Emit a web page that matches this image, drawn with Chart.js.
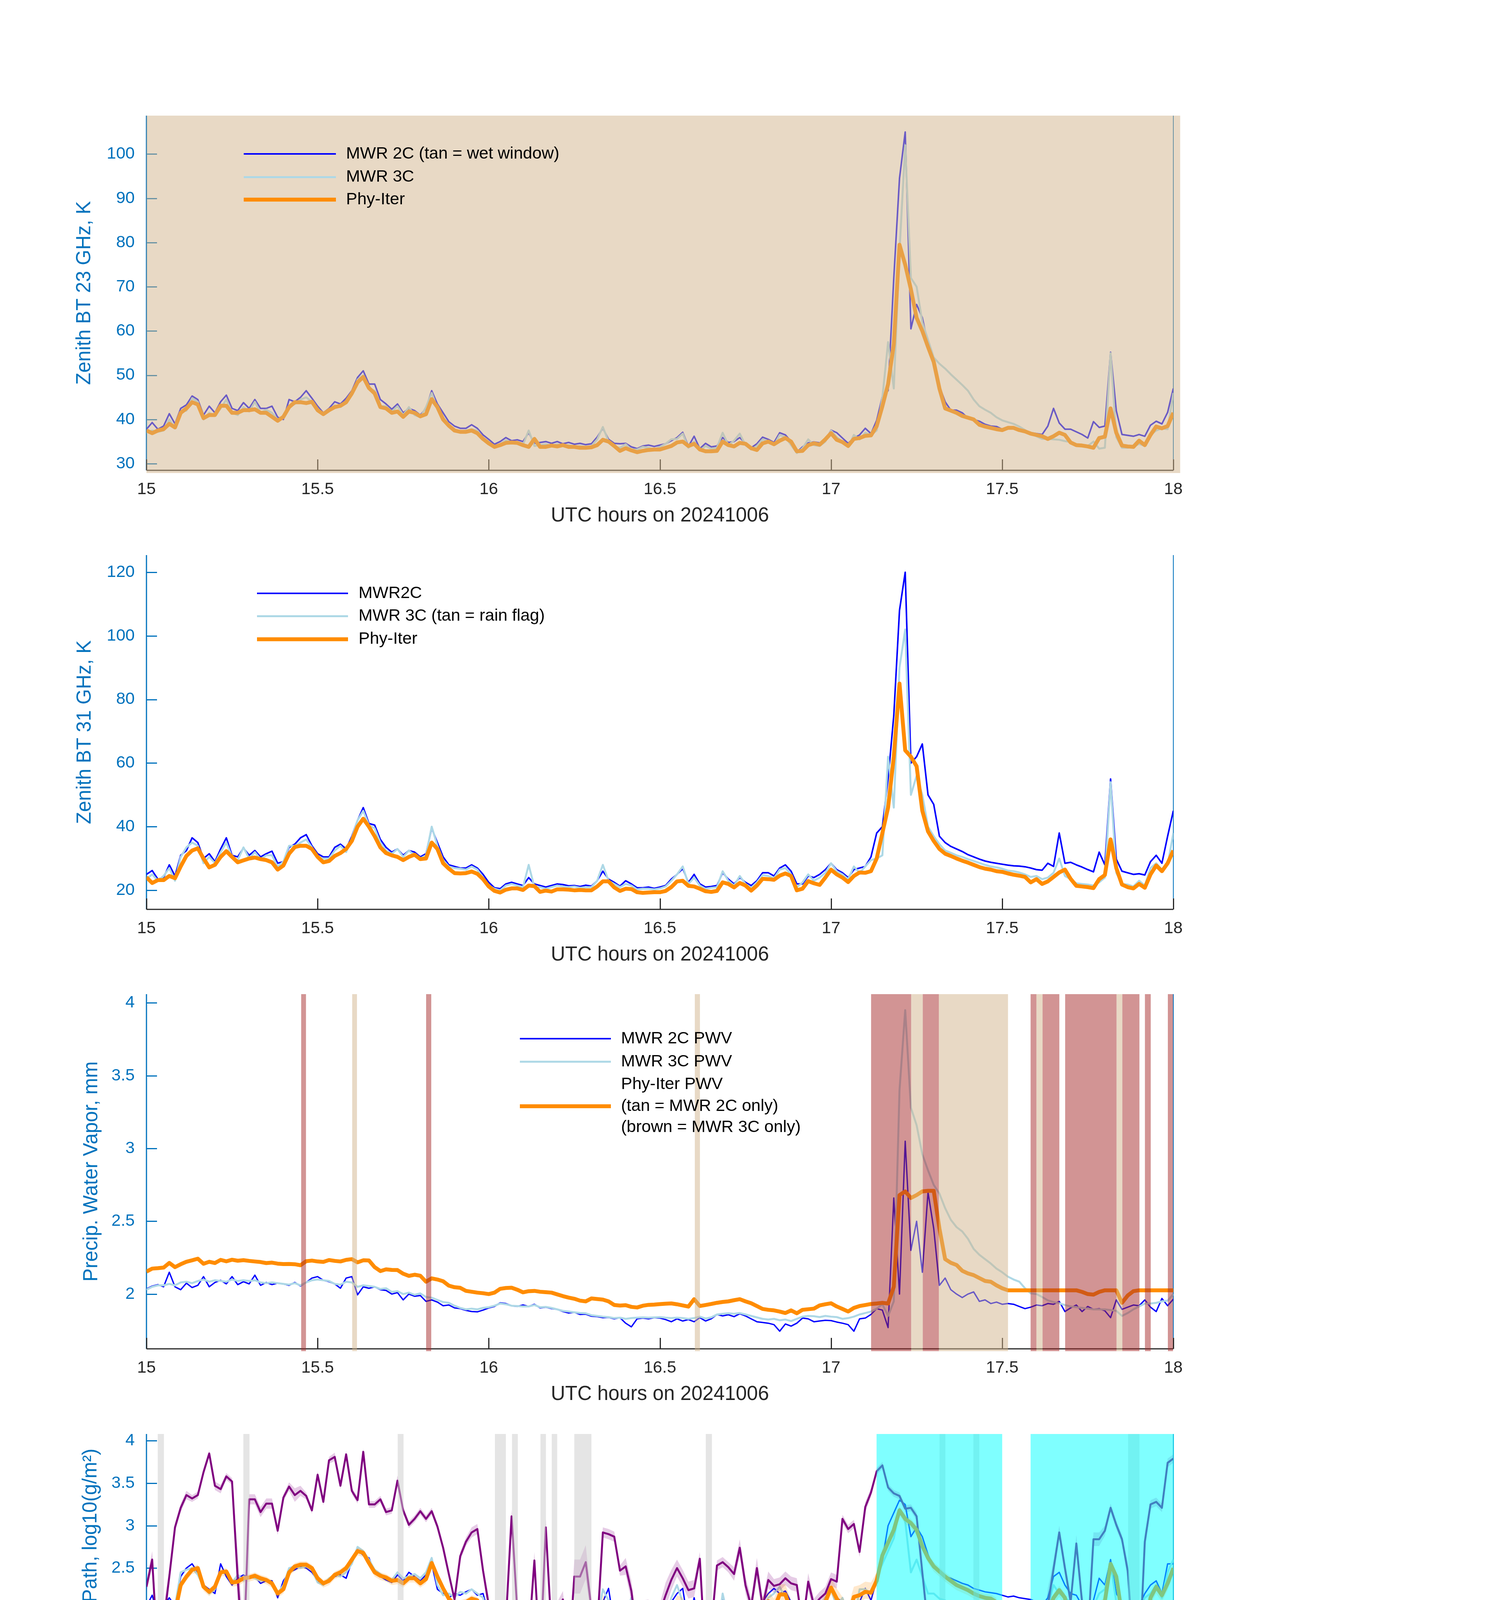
<!DOCTYPE html>
<html>
<head>
<meta charset="utf-8">
<title>MWR retrievals 20241006</title>
<script src="https://cdn.jsdelivr.net/npm/chart.js@4.4.1/dist/chart.umd.min.js"></script>
<style>
  html, body { margin: 0; padding: 0; background: #ffffff; }
  body { width: 3825px; height: 6000px; position: relative; overflow: hidden; }
  canvas { position: absolute; left: 0; }
</style>
</head>
<body>
<canvas id="bt23"></canvas>
<canvas id="bt31"></canvas>
<canvas id="pwv"></canvas>
<canvas id="lwp"></canvas>
<canvas id="dq"></canvas>
<script>
const FONT = "'Liberation Sans', Arial, Helvetica, sans-serif";
const AXIS_BLUE = '#0072BD';
const DARK = '#262626';
const C_2C = '#0000FF', C_3C = '#ADD8E6', C_PHY = '#FF8C00', C_ADIAB = '#800080';

// one sample per minute, starting 15:00 UTC
const xTicks = [15, 15.5, 16, 16.5, 17, 17.5, 18];
const xTitle = 'UTC hours on 20241006';

// ---- panel 1: 23 GHz brightness temperature (K)
const bt23Ticks = [30, 40, 50, 60, 70, 80, 90, 100];
const bt23Mwr2c = [
  37.8, 39.3, 37.8, 38.5, 41.3, 39.0, 42.5, 43.3, 45.3, 44.5,
  41.0, 43.0, 41.5, 44.0, 45.5, 42.5, 42.0, 43.8, 42.5, 44.5,
  42.5, 42.5, 43.0, 40.5, 40.0, 44.5, 44.0, 45.0, 46.5, 44.8,
  43.0, 41.5, 42.5, 44.0, 43.5, 44.8, 46.5, 49.5, 51.0, 48.0,
  48.0, 44.5, 43.5, 42.3, 43.5, 41.5, 42.5, 42.0, 41.0, 42.5,
  46.5, 43.5, 41.5, 39.5, 38.5, 38.0, 38.0, 38.8, 38.0, 36.5,
  35.5, 34.4, 35.0, 35.9, 35.2, 35.4, 35.0, 37.0, 34.6, 34.8,
  35.0, 34.6, 35.0, 34.5, 34.8, 34.4, 34.6, 34.3, 34.5, 36.0,
  38.0, 35.5, 34.6, 34.5, 34.6, 33.8, 33.4, 34.0, 34.2, 33.9,
  34.2, 34.5, 35.2, 35.9, 37.1, 33.9, 36.2, 33.4, 34.6, 33.8,
  34.0, 35.9, 34.8, 35.0, 35.9, 34.6, 33.6, 34.5, 36.0, 35.5,
  34.8, 37.0, 36.5, 35.0, 32.6, 33.8, 34.7, 34.9, 34.7, 35.2,
  37.6, 37.0, 35.8, 34.6, 35.8, 36.5, 38.0, 36.8, 39.8, 45.2,
  46.5, 72.0, 94.5, 105.0, 60.5, 66.0, 63.0, 57.0, 54.0, 47.5,
  44.0, 42.1, 42.1, 41.5, 40.3, 40.0, 39.6, 38.9, 38.5, 38.4,
  37.8, 38.1, 38.0, 37.8, 37.5, 37.0, 36.8, 36.6, 38.5, 42.5,
  39.2, 37.8, 37.8, 37.2, 36.6, 35.8, 39.5, 38.2, 38.5, 55.2,
  42.0, 36.6, 36.4, 36.2, 36.6, 36.2, 38.7, 39.6, 39.0, 41.6,
  47.0
];
const bt23Mwr3c = [
  37.0, 37.5, 37.2, 37.5, 40.0, 38.0, 41.8, 42.0, 44.8, 44.0,
  40.0, 41.5, 40.8, 42.5, 44.5, 41.5, 41.0, 42.8, 41.8, 44.0,
  41.5, 42.2, 41.5, 40.0, 40.3, 43.0, 43.5, 44.5, 45.0, 44.0,
  42.5, 41.0, 42.0, 43.2, 42.8, 44.0, 45.5, 49.0, 50.0, 47.0,
  46.5, 43.0, 43.0, 41.8, 43.0, 41.0, 42.8, 41.0, 40.5, 42.8,
  46.0, 42.5, 40.5, 38.8, 37.8, 37.3, 37.5, 37.8, 37.5, 35.8,
  35.0, 33.6, 34.4, 35.3, 34.8, 34.8, 34.3, 37.5, 34.0, 34.2,
  34.4, 34.0, 34.4, 34.0, 34.2, 33.8, 34.0, 33.8, 34.0, 35.5,
  38.3, 35.0, 33.8, 33.6, 34.4, 33.2, 33.2, 33.8, 33.6, 33.2,
  33.8, 34.5, 35.5, 35.6, 36.8, 33.6, 35.0, 33.0, 34.0, 33.4,
  33.6, 37.0, 34.2, 35.2, 36.8, 34.2, 33.2, 34.0, 35.5, 35.0,
  34.2, 36.5, 36.0, 34.2, 32.4, 33.5, 35.5, 34.2, 34.0, 35.0,
  37.5, 36.0, 35.0, 33.8, 36.5, 35.5, 37.0, 36.5, 37.5, 45.0,
  57.5, 47.0, 78.0, 102.0, 72.0, 70.0, 62.0, 58.0, 54.0, 52.6,
  51.5, 50.2, 49.0, 47.8, 46.5, 44.5, 43.0, 42.2, 41.5, 40.5,
  39.8, 39.4, 39.0, 38.4, 37.6, 36.8, 36.2, 35.6, 35.6, 35.5,
  35.4, 35.1, 34.9, 34.4, 34.2, 34.0, 35.0, 33.4, 33.6, 55.0,
  36.0, 33.6, 33.6, 33.8, 34.5, 34.0, 36.5, 37.5, 38.0, 37.8,
  46.0
];
const bt23Phy = [
  37.5, 36.9, 37.5, 37.8, 39.0, 38.2, 41.5, 42.5, 43.9, 43.4,
  40.3, 41.0, 41.0, 43.1, 43.1, 41.5, 41.5, 42.1, 42.1, 42.3,
  41.5, 41.5, 40.6, 39.7, 40.6, 42.8, 43.9, 43.9, 43.7, 44.0,
  42.1, 41.2, 42.1, 42.8, 43.1, 43.9, 45.9, 48.4, 49.6, 47.1,
  45.9, 42.8, 42.5, 41.5, 41.8, 40.6, 41.8, 41.5, 40.7, 41.2,
  44.6, 42.8, 40.0, 38.6, 37.5, 37.2, 37.2, 37.5, 36.9, 35.6,
  34.6, 33.8, 34.2, 34.7, 34.8, 34.7, 34.2, 33.8, 35.6, 33.8,
  33.8, 34.1, 33.9, 34.2, 33.8, 33.8, 33.6, 33.6, 33.7, 34.2,
  35.4, 35.0, 34.0, 32.9, 33.5, 33.0, 32.6, 32.9, 33.1, 33.2,
  33.2, 33.6, 34.0, 34.8, 35.0, 34.0, 34.5, 33.2, 32.8, 32.8,
  32.9, 35.0, 34.2, 33.9, 34.7, 34.5, 33.5, 33.1, 34.6, 35.0,
  34.4, 35.2, 35.8, 35.0, 32.8, 32.9, 34.2, 34.6, 34.3, 35.5,
  36.9, 35.4, 34.9, 34.0, 35.6, 35.8, 36.3, 36.4, 38.5, 43.0,
  48.0, 57.0, 79.5, 75.0, 69.4, 63.0, 60.0, 56.4, 53.0, 47.0,
  42.5, 42.0, 41.5, 40.8, 40.4, 40.0, 38.8, 38.4, 38.1, 37.8,
  37.6, 38.1, 38.1, 37.6, 37.3, 36.8, 36.5, 36.2, 35.6, 36.2,
  37.0, 36.5, 34.8, 34.2, 34.1, 33.9, 33.6, 35.8, 36.1, 42.5,
  37.0, 34.1, 33.9, 33.8, 35.2, 34.2, 36.5, 38.4, 38.0, 38.5,
  41.5
];
const wetWindow = [[15.0, 18.02]];

// ---- panel 2: 31 GHz brightness temperature (K)
const bt31Ticks = [20, 40, 60, 80, 100, 120];
const bt31Mwr2c = [
  25.0, 26.2, 23.5, 24.0, 28.0, 24.5, 31.0, 32.5, 36.5, 35.0,
  30.0, 31.5, 29.0, 33.0, 36.5, 31.0, 30.5, 33.3, 31.0, 32.5,
  30.5, 31.5, 32.3, 28.5, 29.0, 33.5, 34.5, 36.5, 37.5, 34.0,
  31.5, 30.5, 30.5, 33.5, 34.5, 33.0, 37.0, 42.0, 46.0, 41.0,
  40.5, 36.0, 33.5, 32.0, 33.0, 31.0, 32.5, 32.0, 30.5, 31.5,
  39.5, 35.0, 30.5, 28.0, 27.5, 27.0, 27.0, 28.0, 27.0, 25.0,
  22.5, 20.8, 20.5, 22.0, 22.5, 22.0, 21.5, 24.0, 22.0, 21.5,
  21.0, 21.5, 22.0, 21.8, 21.4, 21.5, 21.2, 21.6, 21.3, 23.0,
  26.0, 23.5, 22.5, 21.3, 23.0, 22.0, 20.8, 20.8, 21.0, 20.6,
  21.0, 21.5, 23.5, 25.0, 26.8, 22.5, 25.0, 22.0, 21.0, 21.2,
  21.5, 25.5, 23.5, 22.0, 24.0, 22.5, 21.5, 23.0, 25.5, 25.5,
  24.5, 27.0, 28.0, 26.0, 22.0, 22.0, 24.5, 24.0, 25.0, 26.5,
  28.5, 26.5, 25.5, 24.0, 26.5, 27.0, 27.5, 30.5, 38.0, 40.0,
  55.0, 75.0, 108.0, 120.0, 60.0, 62.0, 66.0, 50.0, 47.0, 37.0,
  35.0, 33.8, 33.0, 32.2, 31.2, 30.5, 29.8, 29.2, 28.8, 28.5,
  28.2, 27.9, 27.7, 27.6, 27.4, 27.0, 26.5, 26.3, 28.5, 27.5,
  38.0, 28.5, 28.8, 28.0, 27.3, 26.5, 25.8, 32.0, 28.0, 55.0,
  29.8, 26.0, 25.5, 25.0, 25.2, 24.8, 29.0, 31.0, 28.5, 37.0,
  45.0
];
const bt31Mwr3c = [
  23.5, 25.0, 23.0, 24.5, 27.0, 23.0, 30.5, 33.5, 35.0, 34.0,
  28.5, 30.5, 28.5, 32.0, 35.0, 30.5, 29.5, 33.5, 30.0, 32.0,
  29.8, 31.0, 31.0, 27.5, 29.0, 34.0, 34.0, 35.0, 36.0, 33.5,
  30.5, 30.0, 30.0, 32.5, 34.0, 32.0, 36.5, 42.0, 45.0, 40.5,
  39.5, 35.0, 32.5, 31.5, 33.0, 30.5, 32.5, 31.0, 30.0, 31.0,
  40.0, 34.0, 29.5, 27.5, 27.0, 26.8, 26.5, 27.5, 26.5, 24.0,
  21.5, 20.5, 20.0, 21.5, 22.0, 21.5, 21.0, 28.0, 21.0, 21.0,
  20.5, 21.0, 21.5, 21.2, 21.0, 21.2, 20.8, 21.0, 21.0, 23.0,
  28.0, 23.0, 22.0, 21.0, 22.0, 21.5, 20.3, 20.5, 20.5, 20.3,
  20.6, 21.2, 23.0, 25.0, 27.5, 22.0, 24.0, 21.5, 20.5, 20.8,
  21.0, 26.0, 23.0, 21.5, 24.5, 22.0, 20.8, 22.5, 24.8, 24.5,
  23.8, 26.5, 27.0, 25.0, 21.0, 22.5, 25.0, 23.0, 24.0, 25.5,
  28.5, 26.0, 25.0, 23.5, 27.5, 25.5, 27.5, 29.5, 30.0, 31.0,
  62.0, 46.0, 90.0, 102.0, 50.0, 56.0, 50.0, 40.0, 37.0, 34.5,
  32.5, 31.8, 31.0, 30.5, 29.8, 29.2, 28.6, 28.0, 27.5, 27.2,
  26.8, 26.2, 26.0, 25.6, 25.0, 24.2, 24.5, 23.5, 24.0, 25.5,
  30.0, 24.5, 23.5, 22.2, 22.0, 21.8, 21.5, 22.5, 24.0, 54.0,
  25.5, 22.0, 21.8, 21.2, 23.0, 21.5, 27.0, 28.5, 26.5, 28.0,
  38.0
];
const bt31Phy = [
  24.1, 22.3, 23.2, 23.2, 24.5, 23.8, 27.5, 30.8, 32.5, 33.2,
  30.0, 27.2, 28.0, 30.5, 32.3, 30.5, 28.8, 29.4, 30.0, 30.3,
  29.8, 29.5, 28.8, 26.5, 27.8, 31.5, 33.6, 34.0, 34.0, 33.0,
  30.5, 28.8, 29.2, 30.8, 31.7, 33.0, 35.5, 40.0, 42.5, 40.0,
  37.0, 33.5, 31.7, 31.0, 30.5, 29.5, 30.5, 31.2, 29.8, 30.0,
  35.0, 33.0, 28.5, 26.8, 25.4, 25.3, 25.4, 25.9, 25.2, 23.5,
  21.2, 19.8, 19.3, 20.2, 20.6, 20.6, 20.1, 21.5, 21.3, 19.5,
  19.9, 19.6, 20.3, 20.3, 20.2, 20.0, 20.1, 20.0, 20.0, 21.2,
  22.8, 22.8, 20.9, 19.8, 20.5, 20.4, 19.4, 19.2, 19.3, 19.4,
  19.4, 19.8, 21.0, 22.8, 23.0, 21.4, 21.2, 20.5, 19.7, 19.5,
  19.8, 22.5, 22.0, 20.9, 22.3, 21.5, 19.9, 21.5, 23.6, 23.5,
  23.3, 24.6, 25.3, 24.5, 20.0, 20.5, 22.9, 22.2, 21.7, 24.0,
  26.5, 25.0, 24.0, 22.6, 24.5, 25.6, 25.5, 26.0, 30.0, 38.0,
  46.0, 62.0, 85.0, 64.0, 62.0, 59.0, 45.0, 38.5, 35.5, 33.0,
  31.5, 30.8, 30.0, 29.3, 28.7, 28.0, 27.3, 26.8, 26.5, 26.0,
  25.8, 25.3, 24.9, 24.6, 24.2, 22.5, 23.5, 22.0, 22.8, 24.2,
  25.6, 26.5, 23.6, 21.4, 21.2, 21.0, 20.7, 23.5, 24.8, 36.0,
  27.0, 21.8, 21.0, 20.6, 22.0, 20.8, 25.0, 27.8, 26.0, 28.5,
  32.5
];

// ---- panel 3: precipitable water vapour (mm)
const pwvTicks = [2, 2.5, 3, 3.5, 4];
const pwvMwr2c = [
  2.035, 2.055, 2.065, 2.050, 2.150, 2.050, 2.030, 2.075, 2.045, 2.060,
  2.120, 2.050, 2.080, 2.095, 2.070, 2.120, 2.065, 2.085, 2.070, 2.130,
  2.060, 2.080, 2.065, 2.075, 2.070, 2.060, 2.080, 2.055, 2.080, 2.110,
  2.120, 2.095, 2.085, 2.070, 2.040, 2.110, 2.120, 1.995, 2.050, 2.040,
  2.050, 2.030, 2.025, 2.000, 2.010, 1.960, 2.000, 1.985, 1.990, 1.950,
  1.960, 1.945, 1.920, 1.925, 1.905, 1.900, 1.888, 1.880, 1.878, 1.890,
  1.905, 1.915, 1.940, 1.935, 1.920, 1.915, 1.925, 1.915, 1.930, 1.905,
  1.910, 1.900, 1.895, 1.880, 1.870, 1.875, 1.860, 1.862, 1.848, 1.845,
  1.838, 1.840, 1.830, 1.838, 1.800, 1.775, 1.830, 1.835, 1.830, 1.838,
  1.835, 1.825, 1.810, 1.830, 1.815, 1.825, 1.810, 1.838, 1.815, 1.830,
  1.860, 1.850, 1.858, 1.845, 1.865, 1.850, 1.830, 1.810, 1.805, 1.800,
  1.790, 1.745, 1.795, 1.780, 1.800, 1.835, 1.830, 1.810, 1.815, 1.820,
  1.818, 1.808, 1.800, 1.790, 1.745, 1.830, 1.835, 1.860, 1.900, 1.890,
  1.770, 2.660, 2.000, 3.050, 2.300, 2.500, 2.150, 2.700, 2.450, 2.060,
  2.110, 2.030, 2.000, 1.976, 2.000, 2.015, 1.950, 1.960, 1.935, 1.945,
  1.930, 1.935, 1.930, 1.915, 1.900, 1.910, 1.925, 1.920, 1.935, 1.930,
  1.950, 1.880, 1.905, 1.925, 1.880, 1.915, 1.895, 1.900, 1.885, 1.838,
  1.960, 1.895, 1.910, 1.925, 1.920, 1.960, 1.910, 1.880, 1.970, 1.920,
  1.965
];
const pwvMwr3c = [
  2.030, 2.050, 2.060, 2.060, 2.070, 2.060, 2.080, 2.085, 2.075, 2.090,
  2.100, 2.085, 2.095, 2.090, 2.085, 2.100, 2.090, 2.095, 2.090, 2.095,
  2.080, 2.075, 2.080, 2.075, 2.070, 2.065, 2.075, 2.060, 2.080, 2.095,
  2.100, 2.095, 2.090, 2.070, 2.065, 2.085, 2.080, 2.050, 2.060, 2.055,
  2.050, 2.035, 2.040, 2.015, 2.020, 2.000, 2.010, 1.995, 2.005, 1.980,
  1.975, 1.960, 1.945, 1.940, 1.920, 1.905, 1.895, 1.900, 1.895, 1.905,
  1.910, 1.920, 1.935, 1.930, 1.920, 1.918, 1.915, 1.915, 1.925, 1.910,
  1.912, 1.905, 1.895, 1.885, 1.880, 1.875, 1.870, 1.868, 1.855, 1.850,
  1.845, 1.842, 1.835, 1.838, 1.830, 1.835, 1.838, 1.840, 1.838, 1.840,
  1.842, 1.838, 1.835, 1.838, 1.835, 1.830, 1.835, 1.845, 1.832, 1.840,
  1.860, 1.865, 1.868, 1.865, 1.870, 1.860, 1.850, 1.840, 1.830, 1.825,
  1.830, 1.820, 1.825, 1.815, 1.830, 1.845, 1.850, 1.848, 1.842, 1.850,
  1.845, 1.842, 1.830, 1.835, 1.845, 1.860, 1.870, 1.880, 1.900, 1.930,
  1.850, 1.950, 3.400, 3.950, 3.280, 3.160, 2.960, 2.850, 2.750, 2.690,
  2.590, 2.510, 2.460, 2.430, 2.380, 2.310, 2.270, 2.240, 2.210, 2.175,
  2.150, 2.120, 2.100, 2.085, 2.040, 2.005, 2.000, 1.980, 1.957, 1.945,
  1.937, 1.925, 1.915, 1.910, 1.905, 1.900, 1.895, 1.895, 1.895, 1.890,
  1.885, 1.850, 1.870, 1.895, 1.915, 1.935, 1.935, 1.940, 1.950, 1.955,
  2.000
];
const pwvPhy = [
  2.154, 2.175, 2.178, 2.182, 2.214, 2.185, 2.205, 2.222, 2.232, 2.243,
  2.208, 2.222, 2.213, 2.235, 2.225, 2.236, 2.229, 2.233, 2.228, 2.224,
  2.220, 2.213, 2.216, 2.209, 2.206, 2.207, 2.205, 2.198, 2.226, 2.230,
  2.224, 2.221, 2.234, 2.228, 2.224, 2.235, 2.240, 2.218, 2.232, 2.231,
  2.185, 2.158, 2.170, 2.166, 2.165, 2.140, 2.125, 2.133, 2.126, 2.085,
  2.108, 2.100, 2.088, 2.058, 2.047, 2.043, 2.022, 2.016, 2.010, 2.006,
  2.000, 2.010, 2.036, 2.042, 2.044, 2.030, 2.012, 2.020, 2.022, 2.016,
  2.013, 2.010, 1.998, 1.986, 1.976, 1.968, 1.955, 1.950, 1.970, 1.966,
  1.962, 1.950, 1.925, 1.921, 1.924, 1.912, 1.908, 1.920, 1.926, 1.928,
  1.931, 1.934, 1.936, 1.930, 1.922, 1.914, 1.965, 1.918, 1.925, 1.932,
  1.940, 1.946, 1.950, 1.958, 1.965, 1.950, 1.937, 1.918, 1.898, 1.892,
  1.888, 1.880, 1.870, 1.888, 1.868, 1.892, 1.896, 1.900, 1.922, 1.930,
  1.937, 1.915, 1.898, 1.880, 1.905, 1.918, 1.925, 1.932, 1.935, 1.940,
  1.935, 2.050, 2.680, 2.705, 2.660, 2.680, 2.705, 2.709, 2.709, 2.450,
  2.240, 2.215, 2.200, 2.160, 2.142, 2.130, 2.110, 2.090, 2.085, 2.060,
  2.040, 2.026, 2.026, 2.026, 2.026, 2.026, 2.026, 2.026, 2.026, 2.026,
  2.026, 2.026, 2.026, 2.026, 2.015, 2.000, 1.996, 2.015, 2.026, 2.026,
  2.026, 1.940, 1.990, 2.020, 2.026, 2.026, 2.026, 2.026, 2.026, 2.026,
  2.026
];
const mwr2cOnly = [[15.601, 15.615], [16.602, 16.617], [17.234, 17.268], [17.315, 17.517],
                   [17.600, 17.618], [17.834, 17.851]];
const mwr3cOnly = [[15.452, 15.466], [15.817, 15.832], [17.117, 17.234], [17.268, 17.315],
                   [17.583, 17.600], [17.618, 17.667], [17.684, 17.834], [17.851, 17.901],
                   [17.917, 17.934], [17.984, 17.999]];

// ---- panel 4: log10 liquid water path
const lwpTicks = [0, 0.5, 1, 1.5, 2, 2.5, 3, 3.5, 4];
const lwpMwr2c = [
  2.05, 2.18, 1.95, 2.05, 2.15, 2.05, 2.40, 2.50, 2.55, 2.45,
  2.30, 2.25, 2.20, 2.55, 2.40, 2.30, 2.38, 2.42, 2.38, 2.40,
  2.32, 2.35, 2.35, 2.15, 2.35, 2.45, 2.48, 2.52, 2.50, 2.45,
  2.35, 2.30, 2.36, 2.40, 2.42, 2.38, 2.58, 2.72, 2.65, 2.62,
  2.45, 2.40, 2.36, 2.33, 2.42, 2.35, 2.45, 2.40, 2.35, 2.42,
  2.55, 2.25, 2.20, 2.15, 2.20, 2.18, 2.22, 2.25, 2.18, 2.20,
  1.95, 1.60, 1.68, 1.85, 1.82, 1.78, 1.65, 1.95, 1.60, 1.72,
  1.78, 1.85, 1.72, 1.78, 1.80, 1.76, 1.80, 1.78, 1.74, 1.85,
  2.10, 2.26, 1.83, 1.65, 2.05, 2.07, 1.67, 1.83, 1.78, 1.80,
  1.75, 1.88, 2.10, 2.20, 2.26, 1.83, 2.15, 1.83, 1.88, 1.75,
  1.65, 2.15, 2.02, 1.80, 2.05, 1.95, 1.80, 1.88, 2.10, 2.20,
  2.26, 2.20, 2.23, 2.10, 1.62, 1.83, 1.99, 2.02, 1.95, 2.10,
  2.26, 2.15, 2.10, 2.05, 1.95, 2.10, 2.26, 2.12, 2.36, 2.60,
  3.00, 3.15, 3.30, 3.25, 2.87, 2.98, 2.87, 2.66, 2.50, 2.46,
  2.40, 2.38, 2.35, 2.32, 2.30, 2.26, 2.24, 2.22, 2.21, 2.20,
  2.18, 2.16, 2.17, 2.15, 2.14, 2.13, 2.10, 2.06, 2.15, 2.40,
  2.45, 2.30, 2.20, 2.18, 2.06, 2.10, 2.12, 2.38, 2.30, 2.60,
  2.20, 2.10, 2.06, 2.03, 2.06, 2.20, 2.30, 2.35, 2.20, 2.55,
  2.55
];
const lwpMwr3c = [
  1.95, 2.10, 1.90, 2.00, 2.10, 2.05, 2.45, 2.48, 2.50, 2.42,
  2.28, 2.20, 2.25, 2.45, 2.45, 2.33, 2.42, 2.35, 2.40, 2.38,
  2.35, 2.36, 2.33, 2.20, 2.30, 2.50, 2.52, 2.50, 2.52, 2.48,
  2.33, 2.30, 2.38, 2.42, 2.40, 2.45, 2.55, 2.75, 2.70, 2.60,
  2.48, 2.43, 2.38, 2.36, 2.45, 2.38, 2.40, 2.43, 2.38, 2.45,
  2.62, 2.30, 2.18, 2.20, 2.16, 2.22, 2.20, 2.25, 2.20, 2.15,
  1.90, 1.55, 1.70, 1.80, 1.88, 1.72, 1.60, 2.05, 1.65, 1.80,
  1.70, 1.90, 1.75, 1.72, 1.85, 1.70, 1.82, 1.72, 1.80, 1.90,
  2.25, 2.12, 1.80, 1.75, 1.95, 2.15, 1.70, 1.88, 1.72, 1.85,
  1.80, 1.92, 2.15, 2.30, 2.10, 1.80, 2.05, 1.85, 1.80, 1.80,
  1.70, 2.20, 1.90, 1.85, 2.00, 2.05, 1.75, 1.95, 2.00, 2.15,
  2.20, 2.28, 2.15, 2.05, 1.55, 1.90, 1.95, 2.05, 2.00, 2.15,
  2.25, 2.05, 2.15, 1.95, 1.85, 2.25, 2.25, 2.20, 2.40, 2.55,
  2.70, 2.85, 3.20, 3.05, 2.45, 2.60, 2.40, 2.20, 2.20, 2.14,
  2.12, 2.06, 2.05, 2.03, 2.00, 1.97, 1.95, 1.94, 1.93, 1.90,
  1.89, 1.88, 1.90, 1.86, 1.82, 1.90, 2.00, 1.95, 2.05, 2.30,
  2.20, 2.15, 2.10, 2.05, 1.95, 2.00, 2.05, 2.20, 2.25, 2.55,
  2.10, 2.00, 1.95, 1.90, 2.00, 2.15, 2.20, 2.30, 2.15, 2.45,
  2.60
];
const lwpPhy = [
  2.06, 1.76, 1.93, 1.88, 2.05, 1.98, 2.30, 2.40, 2.48, 2.50,
  2.28, 2.22, 2.28, 2.45, 2.46, 2.33, 2.34, 2.38, 2.39, 2.41,
  2.38, 2.36, 2.32, 2.20, 2.25, 2.45, 2.52, 2.54, 2.54, 2.50,
  2.38, 2.32, 2.35, 2.42, 2.45, 2.50, 2.60, 2.70, 2.68, 2.56,
  2.45, 2.41, 2.39, 2.35, 2.36, 2.32, 2.38, 2.38, 2.32, 2.37,
  2.56, 2.40, 2.26, 2.14, 2.07, 2.08, 2.10, 2.14, 2.12, 1.95,
  1.45, 0.40, -0.15, 1.25, 1.50, 1.47, 1.20, 1.55, 1.00, 0.86,
  1.25, 1.10, 1.40, 1.32, 1.40, 1.38, 1.45, 1.33, 1.36, 1.70,
  2.07, 1.93, 1.65, 1.37, 1.77, 1.54, 1.17, 1.38, 1.44, 1.33,
  1.45, 1.65, 1.86, 2.06, 2.03, 1.71, 1.85, 1.49, 1.40, 1.05,
  1.38, 2.02, 1.69, 1.67, 1.94, 1.86, 1.46, 1.58, 2.04, 2.11,
  2.02, 2.19, 2.19, 1.99, 1.11, 1.65, 1.99, 1.87, 1.93, 2.10,
  2.27, 2.14, 2.04, 1.93, 2.16, 2.18, 2.22, 2.21, 2.35, 2.65,
  2.80, 2.95, 3.18, 3.08, 3.03, 2.95, 2.76, 2.62, 2.52, 2.46,
  2.40, 2.35, 2.30, 2.27, 2.24, 2.20, 2.17, 2.15, 2.14, 2.10,
  null, null, null, null, null, 1.95, 2.06, 1.85, 1.98, 2.15,
  2.24, 2.15, 1.85, 1.80, 1.76, 1.72, 1.65, 2.05, 2.11, 2.55,
  2.40, 1.95, 1.80, 1.70, 1.85, 1.75, 2.15, 2.28, 2.18, 2.32,
  2.50
];
const lwpPhyErrLow = [
  0.30, 0.25, 0.15, 0.10, 0.06, 0.06, 0.05, 0.05, 0.05, 0.05,
  0.05, 0.05, 0.05, 0.05, 0.05, 0.05, 0.05, 0.05, 0.05, 0.05,
  0.05, 0.05, 0.05, 0.05, 0.05, 0.05, 0.05, 0.05, 0.05, 0.05,
  0.05, 0.05, 0.05, 0.05, 0.05, 0.05, 0.05, 0.05, 0.05, 0.05,
  0.05, 0.05, 0.05, 0.05, 0.05, 0.05, 0.05, 0.05, 0.05, 0.05,
  0.06, 0.05, 0.05, 0.05, 0.05, 0.05, 0.05, 0.05, 0.06, 0.08,
  0.30, 0.60, 0.30, 1.40, 1.60, 1.50, 1.20, 1.00, 1.00, 0.90,
  0.66, 0.60, 0.30, 0.50, 0.85, 0.50, 0.50, 0.75, 0.55, 0.30,
  0.45, 0.45, 0.30, 0.55, 0.25, 0.60, 1.20, 0.55, 0.37, 0.70,
  0.55, 0.45, 0.25, 0.12, 0.25, 0.18, 0.30, 0.35, 0.36, 1.20,
  0.45, 0.16, 0.18, 0.30, 0.12, 0.22, 0.30, 0.12, 0.08, 0.08,
  0.08, 0.08, 0.08, 0.08, 1.30, 0.12, 0.08, 0.08, 0.08, 0.08,
  0.08, 0.08, 0.08, 0.08, 0.08, 0.08, 0.08, 0.08, 0.06, 0.06,
  0.06, 0.06, 0.06, 0.06, 0.06, 0.06, 0.06, 0.06, 0.06, 0.06,
  0.06, 0.06, 0.06, 0.06, 0.06, 0.06, 0.06, 0.06, 0.06, 0.06,
  0, 0, 0, 0, 0, 0.30, 0.25, 0.20, 0.10, 0.08,
  0.08, 0.10, 0.30, 0.40, 0.40, 0.35, 0.20, 0.10, 0.08, 0.10,
  0.10, 0.20, 0.25, 0.20, 0.10, 0.10, 0.08, 0.08, 0.08, 0.08,
  0.08
];
const lwpPhyErrHigh = [
  0.04, 0.04, 0.04, 0.04, 0.04, 0.04, 0.04, 0.04, 0.04, 0.04,
  0.04, 0.04, 0.04, 0.04, 0.04, 0.04, 0.04, 0.04, 0.04, 0.04,
  0.04, 0.04, 0.04, 0.04, 0.04, 0.04, 0.04, 0.04, 0.04, 0.04,
  0.04, 0.04, 0.04, 0.04, 0.04, 0.04, 0.04, 0.04, 0.04, 0.04,
  0.04, 0.04, 0.04, 0.04, 0.04, 0.04, 0.04, 0.04, 0.04, 0.04,
  0.04, 0.04, 0.04, 0.04, 0.04, 0.04, 0.04, 0.04, 0.04, 0.05,
  0.12, 0.12, 0.12, 0.12, 0.12, 0.12, 0.12, 0.12, 0.12, 0.12,
  0.12, 0.12, 0.12, 0.12, 0.12, 0.12, 0.12, 0.12, 0.12, 0.12,
  0.12, 0.12, 0.12, 0.12, 0.12, 0.12, 0.12, 0.12, 0.12, 0.12,
  0.12, 0.12, 0.12, 0.12, 0.12, 0.12, 0.12, 0.12, 0.12, 0.12,
  0.12, 0.12, 0.12, 0.12, 0.12, 0.12, 0.12, 0.12, 0.12, 0.12,
  0.12, 0.12, 0.12, 0.12, 0.12, 0.12, 0.12, 0.12, 0.12, 0.12,
  0.12, 0.12, 0.12, 0.12, 0.12, 0.12, 0.12, 0.12, 0.10, 0.08,
  0.05, 0.05, 0.05, 0.05, 0.05, 0.05, 0.05, 0.05, 0.05, 0.05,
  0.05, 0.05, 0.05, 0.05, 0.05, 0.05, 0.05, 0.05, 0.05, 0.05,
  0, 0, 0, 0, 0, 0.05, 0.05, 0.05, 0.05, 0.05,
  0.05, 0.05, 0.05, 0.05, 0.05, 0.05, 0.05, 0.05, 0.05, 0.05,
  0.05, 0.05, 0.05, 0.05, 0.05, 0.05, 0.05, 0.05, 0.05, 0.05,
  0.05
];
const lwpAdiab = [
  2.28, 2.60, 1.45, 1.85, 2.40, 2.98, 3.21, 3.36, 3.32, 3.36,
  3.63, 3.85, 3.47, 3.43, 3.58, 3.52, 2.37, 1.39, 3.31, 3.31,
  3.16, 3.26, 3.26, 2.94, 3.33, 3.46, 3.36, 3.41, 3.35, 3.18,
  3.60, 3.28, 3.77, 3.81, 3.47, 3.84, 3.41, 3.30, 3.87, 3.25,
  3.25, 3.31, 3.16, 3.18, 3.53, 3.18, 3.01, 3.08, 3.17, 3.08,
  3.17, 2.99, 2.74, 2.43, 2.13, 2.64, 2.81, 2.92, 2.96, 2.47,
  2.06, 1.59, 1.03, 1.86, 3.11, 2.00, 1.37, 1.66, 2.59, 1.39,
  2.98, 1.76, 2.00, 2.13, 1.44, 2.40, 2.40, 2.57, 2.02, 1.78,
  2.92, 2.90, 2.87, 2.47, 2.52, 2.23, 1.71, 2.00, 2.03, 1.82,
  1.98, 2.18, 2.36, 2.50, 2.38, 2.24, 2.26, 2.61, 1.41, 1.78,
  2.53, 2.57, 2.51, 2.43, 2.74, 2.30, 2.05, 2.50, 2.05, 2.36,
  2.29, 2.31, 2.38, 2.32, 2.30, 1.82, 2.34, 2.06, 2.14, 2.20,
  2.37, 2.34, 3.08, 2.96, 3.02, 2.69, 3.22, 3.39, 3.64, 3.71,
  3.45, 3.38, 3.35, 3.20, 3.21, 3.11, 2.45, 1.80, 1.34, 1.89,
  1.42, 1.01, 1.15, 1.25, 1.20, 0.95, 1.18, 1.39, 1.31, 1.30,
  null, null, null, null, null, 1.49, 1.76, 1.42, 2.06, 2.49,
  2.92, 2.50, 2.10, 2.79, 2.10, 1.69, 2.84, 2.84, 2.94, 3.21,
  3.01, 2.84, 2.47, 1.52, 1.34, 2.81, 3.25, 3.28, 3.21, 3.74,
  3.79
];
const lwpAdiabErr = [
  0.06, 0.10, 0.30, 0.20, 0.08, 0.05, 0.05, 0.05, 0.04, 0.04,
  0.04, 0.04, 0.05, 0.05, 0.04, 0.04, 0.30, 0.40, 0.06, 0.06,
  0.06, 0.06, 0.06, 0.05, 0.04, 0.05, 0.08, 0.06, 0.04, 0.04,
  0.04, 0.04, 0.04, 0.05, 0.04, 0.04, 0.04, 0.04, 0.04, 0.04,
  0.04, 0.04, 0.04, 0.04, 0.06, 0.04, 0.04, 0.04, 0.04, 0.04,
  0.04, 0.04, 0.04, 0.04, 0.04, 0.05, 0.05, 0.06, 0.06, 0.06,
  0.10, 0.12, 0.15, 0.10, 0.08, 0.10, 0.10, 0.10, 0.10, 0.10,
  0.10, 0.10, 0.10, 0.10, 0.10, 0.20, 0.20, 0.20, 0.10, 0.10,
  0.06, 0.06, 0.06, 0.06, 0.10, 0.12, 0.15, 0.12, 0.10, 0.10,
  0.10, 0.15, 0.12, 0.10, 0.10, 0.10, 0.10, 0.08, 0.15, 0.10,
  0.06, 0.06, 0.06, 0.08, 0.10, 0.10, 0.10, 0.12, 0.10, 0.10,
  0.08, 0.08, 0.08, 0.08, 0.08, 0.10, 0.10, 0.08, 0.08, 0.08,
  0.08, 0.08, 0.05, 0.05, 0.05, 0.06, 0.06, 0.05, 0.04, 0.04,
  0.04, 0.04, 0.04, 0.04, 0.04, 0.05, 0.10, 0.15, 0.20, 0.20,
  0.25, 0.30, 0.30, 0.30, 0.30, 0.30, 0.30, 0.25, 0.25, 0.25,
  0, 0, 0, 0, 0, 0.35, 0.30, 0.25, 0.20, 0.10,
  0.08, 0.08, 0.08, 0.10, 0.10, 0.15, 0.08, 0.08, 0.06, 0.05,
  0.05, 0.05, 0.10, 0.25, 0.25, 0.10, 0.05, 0.05, 0.05, 0.05,
  0.05
];
const dqSuspect = [[15.033, 15.051], [15.283, 15.301], [15.734, 15.751], [16.018, 16.050],
                   [16.068, 16.085], [16.151, 16.167], [16.184, 16.200], [16.250, 16.300],
                   [16.634, 16.652], [17.317, 17.334], [17.416, 17.433], [17.868, 17.901]];
const rainFlagged = [[17.133, 17.500], [17.583, 18.002]];

// ---- panel 5: DQ flag values, as the minutes (after 15 UTC) that carry each flag
const flagTicks = [0, 2, 4, 6, 8, 10];
const flag0Minutes = [0, 1, 3, 4, 5, 6, 7, 8, 9, 10, 11, 12, 13, 14, 15, 16,
  18, 19, 20, 21, 22, 23, 24, 25, 26, 27, 28, 29, 30, 31, 32, 33, 34, 35, 36, 37, 38, 39, 40, 41, 42, 43,
  45, 46, 47, 48, 49, 50, 51, 52, 53, 54, 55, 56, 57, 58, 59, 60,
  63, 65, 66, 67, 68, 70, 72, 73, 74,
  78, 79, 80, 81, 82, 83, 84, 85, 86, 87, 88, 89, 90, 91, 92, 93, 94, 95, 96, 97,
  99, 100, 101, 102, 103, 104, 105, 106, 107, 108, 109, 110, 111, 112, 113, 114, 115, 116, 117, 118,
  119, 120, 121, 122, 123, 124, 125, 126, 127];
const flag4Minutes = [2, 17, 44, 61, 62, 64, 69, 71, 75, 76, 77, 98, 139, 145, 172, 173];
const flag6Minutes = [132, 133, 134, 135, 136, 137, 138,
  150, 151, 152, 153, 154, 155, 156, 157, 158, 159, 160, 161, 170, 174, 176, 177, 178, 179, 180];
const flag7Minutes = [132, 133, 134, 135, 136, 137, 138,
  150, 151, 152, 153, 154, 155, 156, 157, 158, 159, 160, 161, 162, 163, 164, 165, 166, 167, 168, 169,
  170, 171, 172, 173, 174, 175, 176, 177, 178, 179, 180];
const flag9Minutes = [130, 131, 132];
const flag10Minutes = [128, 129, 130, 131, 132, 133, 134, 135];
const flag11Minutes = [128, 129, 130, 131, 132, 133, 134, 135, 136, 137, 138, 139, 140, 141, 142,
  143, 144, 145, 146, 147, 148, 149,
  155, 156, 157, 158, 159, 160, 161, 162, 163, 164, 165, 166, 167, 168, 169, 170, 171, 172, 173,
  174, 175, 176, 177, 178, 179, 180];

// ---------------------------------------------------------------------------
const minuteToHour = m => 15 + m / 60;
const pts = arr => arr.map((v, i) => ({ x: minuteToHour(i), y: v }));
const withErr = (vals, err, sign) => vals.map((v, i) => (v === null ? null : v + sign * err[i]));

function line(label, arr, color, width, order) {
  return { label, data: pts(arr), borderColor: color, borderWidth: width, pointRadius: 0,
           fill: false, tension: 0, spanGaps: false, order, borderJoinStyle: 'round' };
}
function envelope(lo, hi, fillColor, order) {
  return [
    { data: pts(lo), borderWidth: 0, borderColor: 'transparent', pointRadius: 0, fill: false, order },
    { data: pts(hi), borderWidth: 0, borderColor: 'transparent', pointRadius: 0, fill: '-1',
      backgroundColor: fillColor, order }
  ];
}
function flagDots(minutes, level) {
  return { data: minutes.map(m => ({ x: 15 + (m + 0.55) / 60, y: level })), showLine: false,
           pointRadius: 4, pointBackgroundColor: C_PHY, pointBorderWidth: 0, borderColor: C_PHY };
}

const TAN = 'rgba(210,180,140,0.5)', BROWN = 'rgba(165,42,42,0.5)';
const GRAY = 'rgba(204,204,204,0.5)', CYAN = 'rgba(0,255,255,0.5)';

const panels = [
  { id: 'bt23', plotTop: 296, plotH: 908, yMin: 28.5, yMax: 108.7, yTicks: bt23Ticks,
    yTitle: 'Zenith BT 23 GHz, K', yTitleX: 217,
    datasets: [line('MWR 2C', bt23Mwr2c, C_2C, 4, 3), line('MWR 3C', bt23Mwr3c, C_3C, 5, 2),
               line('Phy-Iter', bt23Phy, C_PHY, 10, 1)],
    bands: [{ color: TAN, spans: wetWindow, below: 7 }],
    legend: { x0: 624, x1: 860, tx: 886, rows: [98, 157.5, 215],
      items: [{ text: 'MWR 2C (tan = wet window)', color: C_2C, width: 4 },
              { text: 'MWR 3C', color: C_3C, width: 5 },
              { text: 'Phy-Iter', color: C_PHY, width: 10 }] } },
  { id: 'bt31', plotTop: 1421, plotH: 907, yMin: 14.0, yMax: 125.4, yTicks: bt31Ticks,
    yTitle: 'Zenith BT 31 GHz, K', yTitleX: 218,
    datasets: [line('MWR2C', bt31Mwr2c, C_2C, 4, 3), line('MWR 3C', bt31Mwr3c, C_3C, 5, 2),
               line('Phy-Iter', bt31Phy, C_PHY, 10, 1)],
    bands: [],
    legend: { x0: 658, x1: 891, tx: 918, rows: [98, 156.5, 215.5],
      items: [{ text: 'MWR2C', color: C_2C, width: 4 },
              { text: 'MWR 3C (tan = rain flag)', color: C_3C, width: 5 },
              { text: 'Phy-Iter', color: C_PHY, width: 10 }] } },
  { id: 'pwv', plotTop: 2545, plotH: 908, yMin: 1.624, yMax: 4.06, yTicks: pwvTicks,
    yTitle: 'Precip. Water Vapor, mm', yTitleX: 235,
    datasets: [line('MWR 2C PWV', pwvMwr2c, C_2C, 3.5, 3), line('MWR 3C PWV', pwvMwr3c, C_3C, 5, 2),
               line('Phy-Iter PWV', pwvPhy, C_PHY, 10, 1)],
    bands: [{ color: TAN, spans: mwr2cOnly, below: 6 }, { color: BROWN, spans: mwr3cOnly, below: 6 }],
    legend: { x0: 1331, x1: 1564, tx: 1590, rows: [114, 173, 231.5, 287, 341.5],
      items: [{ text: 'MWR 2C PWV', color: C_2C, width: 4 },
              { text: 'MWR 3C PWV', color: C_3C, width: 5 },
              { text: 'Phy-Iter PWV' },
              { text: '(tan = MWR 2C only)', color: C_PHY, width: 10 },
              { text: '(brown = MWR 3C only)' }] } },
  { id: 'lwp', plotTop: 3671, plotH: 906, yMin: -0.09, yMax: 4.08, yTicks: lwpTicks,
    yTitle: 'log10 Liquid Water Path, log10(g/m\u00B2)', yTitleX: 233,
    datasets: [line('MWR 2C LWP', lwpMwr2c, C_2C, 3.5, 6), line('MWR 3C LWP', lwpMwr3c, C_3C, 5, 5),
               ...envelope(withErr(lwpPhy, lwpPhyErrLow, -1), withErr(lwpPhy, lwpPhyErrHigh, 1), 'rgba(255,140,0,0.2)', 4),
               ...envelope(withErr(lwpAdiab, lwpAdiabErr, -1), withErr(lwpAdiab, lwpAdiabErr, 1), 'rgba(128,0,128,0.2)', 4),
               line('Adiabatic LWP', lwpAdiab, C_ADIAB, 5, 2),
               line('Phy-Iter LWP', lwpPhy, C_PHY, 10, 1)],
    bands: [{ color: GRAY, spans: dqSuspect, below: 0 }, { color: CYAN, spans: rainFlagged, below: 0 }],
    legend: { x0: 549, x1: 782, tx: 808, rows: [667, 724, 783, 840],
      items: [{ text: 'MWR 2C LWP', color: C_2C, width: 4 },
              { text: 'MWR 3C LWP', color: C_3C, width: 5 },
              { text: 'Phy-Iter LWP', color: C_PHY, width: 10 },
              { text: 'Adiabatic LWP', color: C_ADIAB, width: 5 }] } },
  { id: 'dq', plotTop: 4795, plotH: 908, yMin: -0.5, yMax: 11.53, yTicks: flagTicks,
    yTitle: 'MWR Phy Iter DQ Flag', yTitleX: 244,
    datasets: [flagDots(flag0Minutes, 0), flagDots(flag4Minutes, 4), flagDots(flag6Minutes, 6),
               flagDots(flag7Minutes, 7), flagDots(flag9Minutes, 9), flagDots(flag10Minutes, 10),
               flagDots(flag11Minutes, 11)],
    bands: [], legend: null }
];

const PAD_TOP = 100, X_BOX = 220;

const matlabAxes = {
  id: 'matlabAxes',
  beforeDatasetsDraw(chart) {
    const { ctx, chartArea: a, scales: { x, y } } = chart;
    ctx.save();
    ctx.lineCap = 'butt';
    ctx.strokeStyle = AXIS_BLUE;
    ctx.lineWidth = 3;
    ctx.beginPath();
    ctx.moveTo(a.left, a.top); ctx.lineTo(a.left, a.bottom);
    y.ticks.forEach(t => {
      const py = Math.round(y.getPixelForValue(t.value)) + 0.5;
      ctx.moveTo(a.left, py); ctx.lineTo(a.left + 27, py);
    });
    ctx.stroke();
    ctx.lineWidth = 2;
    ctx.beginPath();
    ctx.moveTo(a.right, a.top); ctx.lineTo(a.right, a.bottom);
    ctx.stroke();
    ctx.strokeStyle = DARK;
    ctx.lineWidth = 3;
    ctx.beginPath();
    ctx.moveTo(a.left, a.bottom); ctx.lineTo(a.right, a.bottom);
    x.ticks.forEach(t => {
      const px = Math.round(x.getPixelForValue(t.value)) + 0.5;
      ctx.moveTo(px, a.bottom); ctx.lineTo(px, a.bottom - 28);
    });
    ctx.stroke();
    ctx.restore();
  },
  afterDatasetsDraw(chart) {
    const o = chart.options.plugins.matlabAxes;
    const { ctx, chartArea: a, scales: { x } } = chart;
    ctx.save();
    (o.bands || []).forEach(b => {
      ctx.fillStyle = b.color;
      b.spans.forEach(([s, e]) => {
        const x0 = x.getPixelForValue(s), x1 = x.getPixelForValue(e);
        ctx.fillRect(x0, a.top, x1 - x0, a.bottom - a.top + b.below);
      });
    });
    ctx.restore();
  },
  afterDraw(chart) {
    const o = chart.options.plugins.matlabAxes;
    const { ctx, chartArea: a } = chart;
    ctx.save();
    if (o.legend) {
      const lg = o.legend;
      ctx.font = '43px ' + FONT;
      ctx.textBaseline = 'middle';
      ctx.textAlign = 'left';
      lg.items.forEach((it, k) => {
        const yy = a.top + lg.rows[k];
        if (it.color) {
          ctx.strokeStyle = it.color;
          ctx.lineWidth = it.width;
          ctx.beginPath(); ctx.moveTo(lg.x0, yy); ctx.lineTo(lg.x1, yy); ctx.stroke();
        }
        ctx.fillStyle = '#000000';
        ctx.fillText(it.text, lg.tx, yy);
      });
    }
    // axis titles
    ctx.font = '51px ' + FONT;
    ctx.textAlign = 'center';
    ctx.textBaseline = 'middle';
    ctx.fillStyle = DARK;
    ctx.fillText(xTitle, (a.left + a.right) / 2, a.bottom + 117);
    ctx.translate(o.yTitleX, (a.top + a.bottom) / 2);
    ctx.rotate(-Math.PI / 2);
    ctx.fillStyle = AXIS_BLUE;
    ctx.fillText(o.yTitle, 0, 0);
    ctx.restore();
  }
};
Chart.register(matlabAxes);

panels.forEach(p => {
  const cv = document.getElementById(p.id);
  const H = PAD_TOP + p.plotH + X_BOX;
  cv.width = 3825; cv.height = H;
  cv.style.width = '3825px'; cv.style.height = H + 'px';
  cv.style.top = (p.plotTop - PAD_TOP) + 'px';
  new Chart(cv, {
    type: 'line',
    data: { datasets: p.datasets },
    options: {
      responsive: false,
      devicePixelRatio: 1,
      animation: false,
      events: [],
      layout: { padding: { top: PAD_TOP, right: 3825 - 3004, bottom: 0, left: 0 } },
      plugins: {
        legend: { display: false },
        tooltip: { enabled: false },
        matlabAxes: { bands: p.bands, legend: p.legend, yTitle: p.yTitle, yTitleX: p.yTitleX }
      },
      scales: {
        x: {
          type: 'linear', min: 15, max: 18,
          grid: { display: false, drawTicks: false }, border: { display: false },
          afterBuildTicks: s => { s.ticks = xTicks.map(v => ({ value: v })); },
          afterFit: s => { s.height = X_BOX; },
          ticks: { color: DARK, font: { family: FONT, size: 43 }, padding: 23, maxRotation: 0,
                   autoSkip: false, callback: v => String(v) }
        },
        y: {
          type: 'linear', min: p.yMin, max: p.yMax,
          grid: { display: false, drawTicks: false }, border: { display: false },
          afterBuildTicks: s => { s.ticks = p.yTicks.map(v => ({ value: v })); },
          afterFit: s => { s.width = 375; },
          ticks: { color: AXIS_BLUE, font: { family: FONT, size: 43 }, padding: 30,
                   autoSkip: false, callback: v => String(v) }
        }
      }
    }
  });
});
</script>
</body>
</html>
